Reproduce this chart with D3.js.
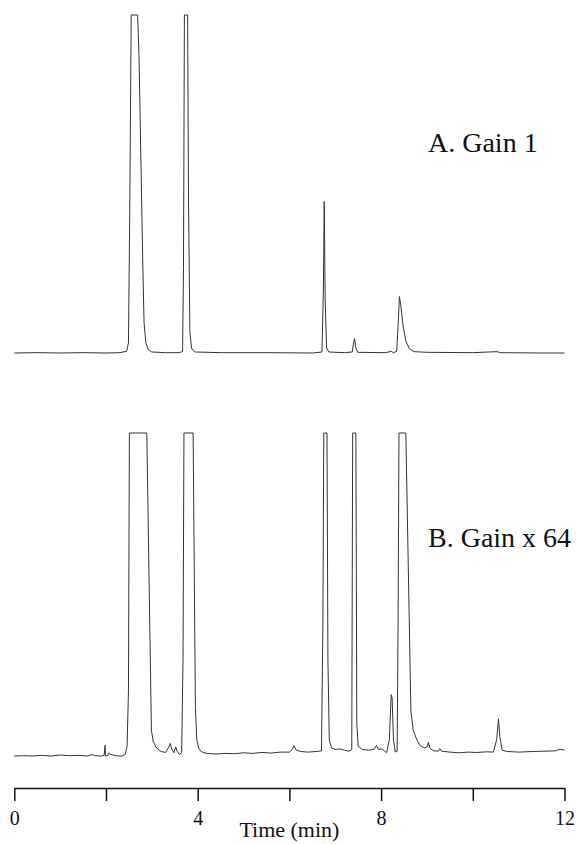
<!DOCTYPE html>
<html>
<head>
<meta charset="utf-8">
<script src="https://cdn.jsdelivr.net/npm/d3@7"></script>
<style>
  body { margin: 0; background: #fff; }
</style>
</head>
<body>
<div id="chart"></div>
<script>
// Time axis ticks (min)
const timeTicks = [0, 2, 4, 6, 8, 10, 12];
const timeLabels = [0, 4, 8, 12];

// Trace A (gain 1): [time in min, signal in % of full scale], >100 is off scale
const traceA = [
  [0.0, 0], [0.5, 0.1], [1.0, 0], [1.5, 0.1], [2.0, 0], [2.3, 0.1], [2.45, 0.5],
  [2.49, 3], [2.52, 45], [2.55, 110], [2.69, 110], [2.72, 88], [2.76, 58],
  [2.80, 28], [2.83, 9], [2.87, 3], [2.92, 1], [3.0, 0.3], [3.3, 0.1], [3.6, 0.1],
  [3.67, 0.5], [3.69, 25], [3.71, 105], [3.78, 105], [3.80, 45], [3.83, 6],
  [3.87, 1.2], [3.95, 0.3], [4.5, 0.1], [5.5, 0.1], [6.5, 0], [6.71, 0.3],
  [6.74, 18], [6.76, 44.8], [6.78, 16], [6.81, 1.5], [6.86, 0.3], [7.2, 0.1],
  [7.37, 0.3], [7.40, 3], [7.42, 4.3], [7.45, 1.5], [7.49, 0.2], [8.1, 0.1],
  [8.22, 0.5], [8.27, 0.1], [8.34, 0.5], [8.37, 8], [8.40, 16.7], [8.43, 14],
  [8.48, 8], [8.54, 3.5], [8.62, 1.2], [8.72, 0.4], [9.0, 0.2], [10.0, 0.1],
  [10.53, 0.4], [10.6, 0.1], [11.5, 0], [12.0, 0]
];

// Trace B (gain x 64): [time in min, signal in % of full scale]
const traceB = [
  [0.0, -0.2], [0.2, 0.1], [0.4, -0.1], [0.6, 0.2], [0.8, 0.0], [1.0, 0.3],
  [1.2, 0.1], [1.4, 0.2], [1.6, 0.0], [1.7, 0.5], [1.75, 0.1], [1.9, 0.0],
  [1.96, 0.2], [1.98, 3.3], [1.99, -0.6], [2.03, -0.8], [2.06, 0.9], [2.09, 0.6],
  [2.15, 0.3], [2.25, 0.0], [2.35, -0.1], [2.42, 0.5], [2.46, 3], [2.49, 20],
  [2.51, 110], [2.89, 100], [2.99, 8], [3.03, 4.5], [3.1, 2.5], [3.2, 1.4],
  [3.3, 1.1], [3.36, 2.5], [3.40, 3.9], [3.44, 2], [3.48, 1.0], [3.52, 2.8],
  [3.55, 1.5], [3.60, 0.5], [3.65, 1], [3.68, 30], [3.70, 110], [3.90, 100],
  [3.95, 15], [3.98, 5], [4.03, 2], [4.1, 1.2], [4.2, 0.8], [4.4, 0.6],
  [4.6, 0.8], [4.8, 0.7], [5.0, 1.0], [5.2, 0.8], [5.4, 1.1], [5.6, 0.9],
  [5.8, 1.2], [6.0, 1.2], [6.06, 2], [6.10, 3.2], [6.15, 1.8], [6.25, 1.4],
  [6.4, 1.2], [6.6, 1.4], [6.70, 1.6], [6.73, 40], [6.75, 110], [6.82, 110],
  [6.84, 30], [6.87, 5], [6.92, 2.5], [7.0, 2], [7.1, 2.2], [7.2, 1.8],
  [7.3, 1.5], [7.36, 2], [7.38, 110], [7.45, 110], [7.47, 10], [7.50, 3],
  [7.6, 2], [7.75, 1.8], [7.85, 2.1], [7.90, 3.3], [7.94, 2], [8.02, 2.2],
  [8.08, 1.5], [8.12, 1.0], [8.18, 5], [8.22, 19], [8.24, 18], [8.27, 5],
  [8.31, 1.2], [8.35, 1.5], [8.37, 40], [8.39, 110], [8.54, 100], [8.65, 14],
  [8.70, 8], [8.78, 5], [8.85, 3.2], [8.95, 2.5], [9.0, 2.8], [9.03, 4.2],
  [9.07, 2.3], [9.15, 1.6], [9.25, 1.5], [9.28, 2.3], [9.32, 1.5], [9.5, 1.2],
  [9.7, 1.0], [9.9, 1.2], [10.1, 1.1], [10.3, 1.3], [10.45, 1.2], [10.52, 5],
  [10.56, 11.5], [10.59, 6], [10.64, 1.8], [10.75, 1.4], [11.0, 1.2], [11.3, 1.4],
  [11.6, 1.5], [11.8, 1.6], [11.9, 2.1], [12.0, 1.8]
];

const panelLabels = ["A. Gain 1", "B. Gain x 64"];

const width = 576;
const height = 844;
const serif = "'Liberation Serif', 'Times New Roman', Times, serif";

const svg = d3.select("#chart")
  .append("svg")
  .attr("width", width)
  .attr("height", height);

svg.append("rect")
  .attr("width", width)
  .attr("height", height)
  .attr("fill", "#fff");

// Shared time scale
const x = d3.scaleLinear()
  .domain([0, 12])
  .range([14.3, 564.5]);

// One y scale per panel, clamped so off-scale peaks get flat tops
const yA = d3.scaleLinear().domain([0, 100]).range([353, 15]).clamp(true);
const yB = d3.scaleLinear().domain([0, 100]).range([756, 433]).clamp(true);

function drawTrace(data, y) {
  const line = d3.line()
    .x(d => x(d[0]))
    .y(d => y(d[1]));
  svg.append("path")
    .datum(data)
    .attr("fill", "none")
    .attr("stroke", "#333")
    .attr("stroke-width", 1)
    .attr("stroke-linejoin", "round")
    .attr("d", line);
}

drawTrace(traceA, yA);
drawTrace(traceB, yB);

// Panel labels
svg.append("text")
  .attr("x", 428)
  .attr("y", 152)
  .style("font-family", serif)
  .style("font-size", "28px")
  .attr("fill", "#111")
  .text(panelLabels[0]);

svg.append("text")
  .attr("x", 428)
  .attr("y", 547)
  .style("font-family", serif)
  .style("font-size", "28px")
  .attr("fill", "#111")
  .text(panelLabels[1]);

// Time axis
const axis = svg.append("g")
  .attr("transform", "translate(0, 788)")
  .call(d3.axisBottom(x)
    .tickValues(timeTicks)
    .tickSize(13)
    .tickSizeOuter(0)
    .tickPadding(10)
    .tickFormat(d => timeLabels.includes(d) ? d : ""));

axis.select(".domain").attr("stroke", "#111").attr("stroke-width", 1.5);
axis.selectAll(".tick line").attr("stroke", "#111").attr("stroke-width", 1.5);
axis.selectAll(".tick text")
  .style("font-family", serif)
  .style("font-size", "20px")
  .attr("fill", "#111");

svg.append("text")
  .attr("x", (x(0) + x(12)) / 2)
  .attr("y", 837)
  .attr("text-anchor", "middle")
  .style("font-family", serif)
  .style("font-size", "22px")
  .attr("fill", "#111")
  .text("Time (min)");
</script>
</body>
</html>
